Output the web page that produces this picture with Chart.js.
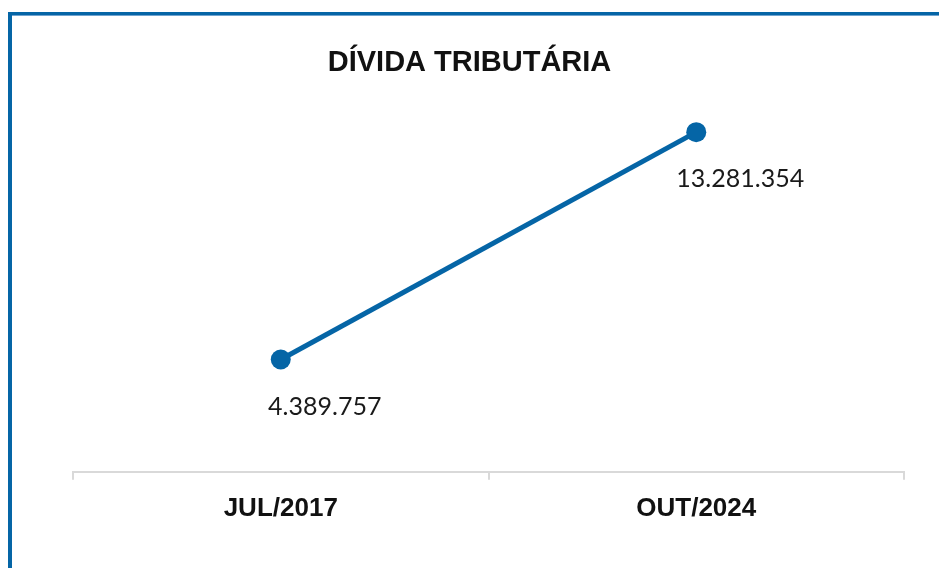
<!DOCTYPE html>
<html>
<head>
<meta charset="utf-8">
<script src="https://cdn.jsdelivr.net/npm/chart.js@4/dist/chart.umd.min.js"></script>
<style>
  html, body { margin: 0; padding: 0; background: #fff; }
  #wrap { position: relative; width: 939px; height: 568px; overflow: hidden; }
  #moldura {
    position: absolute; left: 8px; top: 12px; right: -10px; bottom: -10px;
    border-left: 4px solid #0565a6; border-top: 3px solid #0565a6;
    pointer-events: none;
  }
  #moldura::after {
    content: ''; position: absolute; left: 0; right: 0; top: 0; height: 1px;
    background: #6fa3cf;
  }
  canvas { position: absolute; left: 0; top: 0; }
</style>
</head>
<body>
<div id="wrap">
  <canvas id="grafico" width="939" height="568"></canvas>
  <div id="moldura"></div>
</div>
<script>
'use strict';

// dados
const periodos = ['JUL/2017', 'OUT/2024'];
const divida = [4389757, 13281354];
const titulo = 'DÍVIDA TRIBUTÁRIA';

const AZUL = '#0565a6';

function fmtBR(n) {
  return String(Math.round(n)).replace(/\B(?=(\d{3})+(?!\d))/g, '.');
}

// rótulos de dados abaixo/à direita dos pontos
const rotulos = {
  id: 'rotulos',
  afterDatasetsDraw(chart) {
    const ctx = chart.ctx;
    const meta = chart.getDatasetMeta(0);
    ctx.save();
    ctx.font = '25px Lato, sans-serif';
    ctx.fillStyle = '#1a1a1a';
    ctx.textAlign = 'center';
    ctx.textBaseline = 'middle';
    meta.data.forEach((pt, i) => {
      ctx.fillText(fmtBR(divida[i]), pt.x + 44, pt.y + 47);
    });
    ctx.restore();
  }
};

const ctx = document.getElementById('grafico').getContext('2d');

new Chart(ctx, {
  type: 'line',
  data: {
    labels: periodos,
    datasets: [{
      label: 'Dívida',
      data: divida,
      borderColor: AZUL,
      backgroundColor: AZUL,
      borderWidth: 5,
      pointRadius: 10,
      pointBorderWidth: 0,
      pointBackgroundColor: AZUL,
      tension: 0
    }]
  },
  options: {
    responsive: false,
    animation: false,
    // padding simétrico para o título ficar centrado na tela
    layout: { padding: { left: 35, right: 35, top: 0, bottom: 31 } },
    plugins: {
      legend: { display: false },
      tooltip: { enabled: false },
      title: {
        display: true,
        text: titulo,
        color: '#111',
        font: { family: "'Liberation Sans', Arial, sans-serif", size: 29, weight: 'bold' },
        padding: { top: 46, bottom: 33 }
      }
    },
    scales: {
      x: {
        offset: true,
        grid: { offset: true, drawOnChartArea: false, drawTicks: true, tickLength: 8, color: '#d9d9d9', lineWidth: 2 },
        border: { display: true, color: '#d9d9d9', width: 2 },
        ticks: {
          color: '#111',
          padding: 13,
          font: { family: "'Liberation Sans', Arial, sans-serif", size: 26, weight: 'bold' }
        }
      },
      y: {
        display: true,
        min: 0,
        max: 14000000,
        grid: { display: false },
        border: { display: false },
        ticks: { display: false },
        afterFit(s) { s.width = 38; } // eixo invisível, só reserva espaço à esquerda
      }
    }
  },
  plugins: [rotulos]
});
</script>
</body>
</html>
